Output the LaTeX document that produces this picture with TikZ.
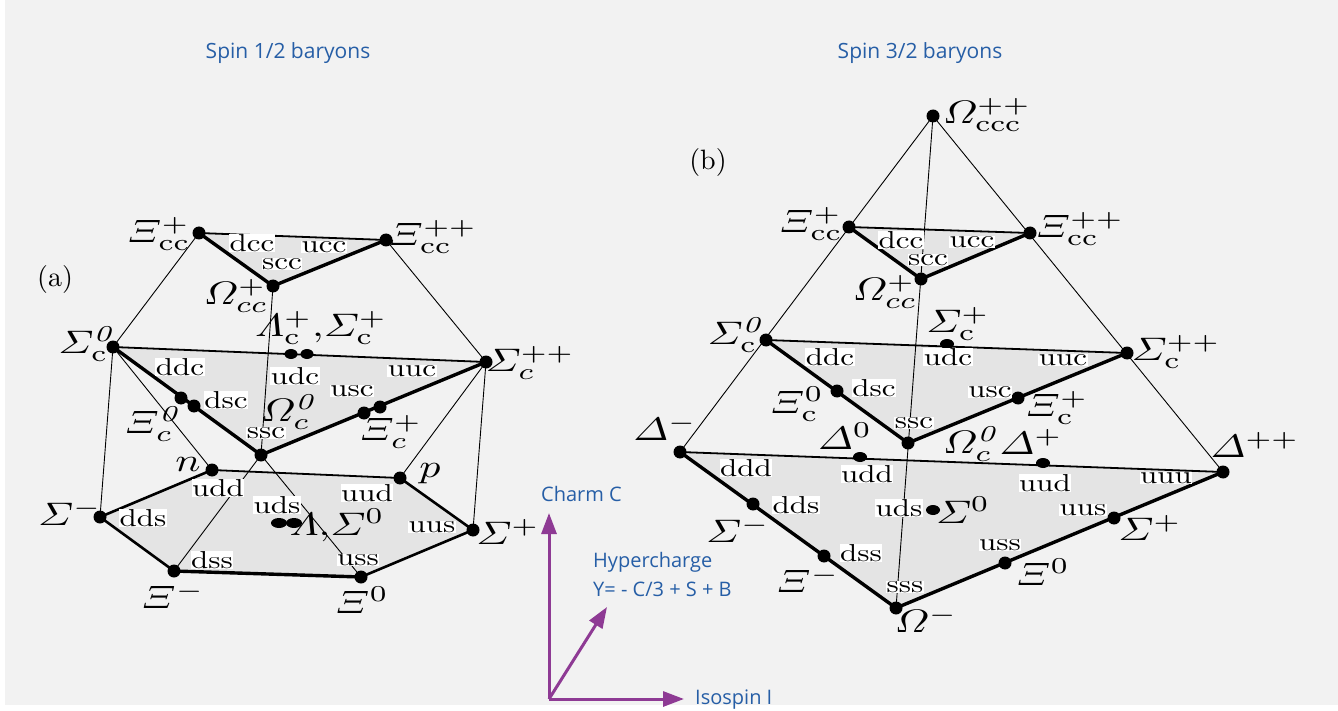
\documentclass[tikz,border=0pt]{standalone}
\usepackage{amsmath}
\usepackage{graphicx}
\usepackage{fontspec}
\newfontfamily\osans{Open Sans}
\usetikzlibrary{arrows.meta,shapes.geometric}
\definecolor{bgc}{RGB}{242,242,242}
\definecolor{shadec}{RGB}{228,228,228}
\definecolor{ttl}{RGB}{38,94,166}
\definecolor{axc}{RGB}{142,58,148}
\newcommand\gk[1]{\scalebox{4.2}[3.25]{\normalsize$#1$}}
\newcommand\qk[1]{\scalebox{3.1}[2.45]{\normalsize #1}}
\tikzset{
  dot/.style={circle,fill=black,inner sep=0pt,minimum size=13pt},
  edot/.style={ellipse,fill=black,inner sep=0pt,minimum width=14pt,minimum height=10pt},
  qlab/.style={fill=white,inner sep=0.6pt},
  glab/.style={inner sep=0pt},
  lnA/.style={line width=0.9pt},
  lnB/.style={line width=1.8pt},
  lnC/.style={line width=2.6pt},
  lnD/.style={line width=3.4pt},
  shadepoly/.style={fill=shadec},
  ttlfont/.style={font=\osans\fontsize{21}{23}\selectfont,text=ttl},
  axfont/.style={font=\osans\fontsize{20}{22}\selectfont,text=ttl,inner sep=0pt},
  axarrow/.style={draw=axc,line width=3pt,-{Triangle[length=21pt,width=15pt,fill=axc]}}
}
\begin{document}
\begin{tikzpicture}[x=1pt,y=-1pt]
\useasboundingbox (0,0) rectangle (1338,711);
\fill[white] (0,0) rectangle (1338,711);
\fill[bgc] (5,0) rectangle (1338,705);

% ---------- (a) coordinates ----------
\coordinate (aXccp) at (199,233);
\coordinate (aXccpp) at (386,240);
\coordinate (aOccp) at (273,286);
\coordinate (aSc0) at (113,347);
\coordinate (aScpp) at (486,362);
\coordinate (aLc1) at (291,354);
\coordinate (aLc2) at (307,354);
\coordinate (aDsc1) at (181,398);
\coordinate (aDsc2) at (194,406);
\coordinate (aSsc) at (261,455);
\coordinate (aUsc1) at (364,413);
\coordinate (aUsc2) at (380,407);
\coordinate (aN) at (212,470);
\coordinate (aP) at (400,478);
\coordinate (aSm) at (100,517);
\coordinate (aXm) at (174,571);
\coordinate (aX0) at (361,577);
\coordinate (aSp) at (473,530);
\coordinate (aL1) at (279,523);
\coordinate (aL2) at (294,523);

% ---------- (b) coordinates ----------
\coordinate (bOccc) at (933,116);
\coordinate (bXccp) at (849,227);
\coordinate (bXccpp) at (1030,233);
\coordinate (bOccp) at (921,279);
\coordinate (bSc0) at (766,340);
\coordinate (bScp) at (947,344);
\coordinate (bScpp) at (1127,353);
\coordinate (bXc0) at (837,391);
\coordinate (bSsc) at (908,443);
\coordinate (bXcp) at (1018,398);
\coordinate (bDm) at (680,452);
\coordinate (bD0) at (860,457);
\coordinate (bDp) at (1043,463);
\coordinate (bDpp) at (1223,472);
\coordinate (bSm) at (753,504);
\coordinate (bXm) at (824,556);
\coordinate (bOm) at (896,608);
\coordinate (bS0) at (933,510);
\coordinate (bX0) at (1005,563);
\coordinate (bSp) at (1114,518);

% ---------- shaded faces ----------
\fill[shadepoly] (aXccp) -- (aXccpp) -- (aOccp) -- cycle;
\fill[shadepoly] (aSc0) -- (aScpp) -- (aSsc) -- cycle;
\fill[shadepoly] (aN) -- (aP) -- (aSp) -- (aX0) -- (aXm) -- (aSm) -- cycle;
\fill[shadepoly] (bXccp) -- (bXccpp) -- (bOccp) -- cycle;
\fill[shadepoly] (bSc0) -- (bScpp) -- (bSsc) -- cycle;
\fill[shadepoly] (bDm) -- (bDpp) -- (bOm) -- cycle;

% ---------- (a) edges ----------
\draw[lnA] (aXccp) -- (aSc0);
\draw[lnA] (aXccpp) -- (aScpp);
\draw[lnA] (aOccp) -- (aSsc);
\draw[lnA] (aSc0) -- (aSm);
\draw[lnA] (aScpp) -- (aSp);
\draw[lnA] (aSc0) -- (aN);
\draw[lnA] (aScpp) -- (aP);
\draw[lnA] (aSsc) -- (aXm);
\draw[lnA] (aSsc) -- (aX0);
\draw[lnB] (aXccp) -- (aXccpp);
\draw[lnB] (aSc0) -- (aScpp);
\draw[lnB] (aN) -- (aP);
\draw[lnC] (aSm) -- (aN);
\draw[lnC] (aSm) -- (aXm);
\draw[lnC] (aP) -- (aSp);
\draw[lnC] (aSp) -- (aX0);
\draw[lnD,line join=round] (aXccp) -- (aOccp) -- (aXccpp);
\draw[lnD,line join=round] (aSc0) -- (aSsc) -- (aScpp);
\draw[lnD] (aXm) -- (aX0);

% ---------- (b) edges ----------
\draw[lnA] (bOccc) -- (bDm);
\draw[lnA] (bOccc) -- (bDpp);
\draw[lnA] (bOccc) -- (bOm);
\draw[lnB] (bXccp) -- (bXccpp);
\draw[lnB] (bSc0) -- (bScpp);
\draw[lnB] (bDm) -- (bDpp);
\draw[lnD,line join=round] (bXccp) -- (bOccp) -- (bXccpp);
\draw[lnD,line join=round] (bSc0) -- (bSsc) -- (bScpp);
\draw[lnD,line join=round] (bDm) -- (bOm) -- (bDpp);

% ---------- (a) dots ----------
\node[dot] (aXccpD) at (aXccp) {};
\node[dot] (aXccppD) at (aXccpp) {};
\node[dot] (aOccpD) at (aOccp) {};
\node[dot] (aSc0D) at (aSc0) {};
\node[dot] (aScppD) at (aScpp) {};
\node[edot,minimum width=13pt] (aLc1D) at (aLc1) {};
\node[edot,minimum width=13pt] (aLc2D) at (aLc2) {};
\node[dot] (aDsc1D) at (aDsc1) {};
\node[dot] (aDsc2D) at (aDsc2) {};
\node[dot] (aSscD) at (aSsc) {};
\node[dot] (aUsc1D) at (aUsc1) {};
\node[dot] (aUsc2D) at (aUsc2) {};
\node[dot] (aND) at (aN) {};
\node[dot] (aPD) at (aP) {};
\node[dot] (aSmD) at (aSm) {};
\node[dot] (aXmD) at (aXm) {};
\node[dot] (aX0D) at (aX0) {};
\node[dot] (aSpD) at (aSp) {};
\node[edot,minimum width=16pt] (aL1D) at (aL1) {};
\node[edot,minimum width=16pt] (aL2D) at (aL2) {};

% ---------- (b) dots ----------
\node[dot] (bOcccD) at (bOccc) {};
\node[dot] (bXccpD) at (bXccp) {};
\node[dot] (bXccppD) at (bXccpp) {};
\node[dot] (bOccpD) at (bOccp) {};
\node[dot] (bSc0D) at (bSc0) {};
\node[edot] (bScpD) at (bScp) {};
\node[dot] (bScppD) at (bScpp) {};
\node[dot] (bXc0D) at (bXc0) {};
\node[dot] (bSscD) at (bSsc) {};
\node[dot] (bXcpD) at (bXcp) {};
\node[dot] (bDmD) at (bDm) {};
\node[edot] (bD0D) at (bD0) {};
\node[edot] (bDpD) at (bDp) {};
\node[dot] (bDppD) at (bDpp) {};
\node[dot] (bSmD) at (bSm) {};
\node[dot] (bXmD) at (bXm) {};
\node[dot] (bOmD) at (bOm) {};
\node[edot] (bS0D) at (bS0) {};
\node[dot] (bX0D) at (bX0) {};
\node[dot] (bSpD) at (bSp) {};

% ---------- (a) quark labels ----------
\node[qlab] (aq1) at (252,243) {\qk{dcc}};
\node[qlab] (aq2) at (324,247) {\qk{ucc}};
\node[qlab] (aq3) at (282,264) {\qk{scc}};
\node[qlab] (aq4) at (180,367) {\qk{ddc}};
\node[qlab] (aq5) at (295,376) {\qk{udc}};
\node[qlab] (aq6) at (412,371) {\qk{uuc}};
\node[qlab] (aq7) at (226,400) {\qk{dsc}};
\node[qlab] (aq8) at (352,391) {\qk{usc}};
\node[qlab] (aq9) at (266,433) {\qk{ssc}};
\node[qlab] (aq10) at (218,488) {\qk{udd}};
\node[qlab] (aq11) at (277,505) {\qk{uds}};
\node[qlab] (aq12) at (367,493) {\qk{uud}};
\node[qlab] (aq13) at (143,518) {\qk{dds}};
\node[qlab] (aq14) at (432,527) {\qk{uus}};
\node[qlab] (aq15) at (212,560) {\qk{dss}};
\node[qlab] (aq16) at (358,560) {\qk{uss}};

% ---------- (a) particle labels ----------
\node (aTag) at (55,280) {\scalebox{2.8}{(a)}};
\node[glab] (aXccpL) at (159,234) {\gk{\varXi^{+}_{\mathrm{cc}}}};
\node[glab] (aXccppL) at (433,237) {\gk{\varXi^{++}_{\mathrm{cc}}}};
\node[glab] (aOccpL) at (236,296) {\gk{\varOmega^{+}_{cc}}};
\node[glab] (aSc0L) at (86,344) {\gk{\varSigma^{\mathit{0}}_{\mathrm{c}}}};
\node[glab] (aLcL) at (321,328) {\gk{\varLambda^{+}_{\mathrm{c}}{,}\varSigma^{+}_{\mathrm{c}}}};
\node[glab] (aScppL) at (530,363) {\gk{\varSigma^{++}_{c}}};
\node[glab] (aOc0L) at (288,412) {\gk{\varOmega^{\mathit{0}}_{c}}};
\node[glab] (aXc0L) at (152,424) {\gk{\varXi^{\mathit{0}}_{c}}};
\node[glab] (aXcpL) at (391,432) {\gk{\varXi^{+}_{c}}};
\node[glab] (aNL) at (188,465) {\gk{n}};
\node[glab] (aPL) at (430,474) {\gk{p}};
\node[glab] (aL0L) at (337,525) {\gk{\varLambda{,}\varSigma^{0}}};
\node[glab] (aSmL) at (70,513) {\gk{\varSigma^{-}}};
\node[glab] (aSpL) at (508,532) {\gk{\varSigma^{+}}};
\node[glab] (aXmL) at (173,596) {\gk{\varXi^{-}}};
\node[glab] (aX0L) at (362,600) {\gk{\varXi^{0}}};

% ---------- (b) quark labels ----------
\node[qlab] (bq1) at (901,240) {\qk{dcc}};
\node[qlab] (bq2) at (972,242) {\qk{ucc}};
\node[qlab] (bq3) at (928,260) {\qk{scc}};
\node[qlab] (bq4) at (830,357) {\qk{ddc}};
\node[qlab] (bq5) at (948,357) {\qk{udc}};
\node[qlab] (bq6) at (1063,360) {\qk{uuc}};
\node[qlab] (bq7) at (874,388) {\qk{dsc}};
\node[qlab] (bq8) at (990,392) {\qk{usc}};
\node[qlab] (bq9) at (914,423) {\qk{ssc}};
\node[qlab] (bq10) at (746,468) {\qk{ddd}};
\node[qlab] (bq11) at (867,474) {\qk{udd}};
\node[qlab] (bq12) at (1045,483) {\qk{uud}};
\node[qlab] (bq13) at (1166,478) {\qk{uuu}};
\node[qlab] (bq14) at (796,505) {\qk{dds}};
\node[qlab] (bq15) at (899,508) {\qk{uds}};
\node[qlab] (bq16) at (861,553) {\qk{dss}};
\node[qlab] (bq17) at (905,587) {\qk{sss}};
\node[qlab] (bq18) at (1000,545) {\qk{uss}};
\node[qlab] (bq19) at (1083,510) {\qk{uus}};

% ---------- (b) particle labels ----------
\node (bTag) at (708,163) {\scalebox{2.8}{(b)}};
\node[glab] (bOcccL) at (987,115) {\gk{\varOmega^{++}_{\mathrm{ccc}}}};
\node[glab] (bXccpL) at (811,224) {\gk{\varXi^{+}_{\mathrm{cc}}}};
\node[glab] (bXccppL) at (1080,229) {\gk{\varXi^{++}_{\mathrm{cc}}}};
\node[glab] (bOccpL) at (885,292) {\gk{\varOmega^{+}_{cc}}};
\node[glab] (bSc0L) at (735,335) {\gk{\varSigma^{\mathit{0}}_{\mathrm{c}}}};
\node[glab] (bScpL) at (958,324) {\gk{\varSigma^{+}_{\mathrm{c}}}};
\node[glab] (bScppL) at (1176,352) {\gk{\varSigma^{++}_{\mathrm{c}}}};
\node[glab] (bXc0L) at (797,404) {\gk{\varXi^{0}_{\mathrm{c}}}};
\node[glab] (bXcpL) at (1057,408) {\gk{\varXi^{+}_{\mathrm{c}}}};
\node[glab] (bOc0L) at (970,444) {\gk{\varOmega^{\mathit{0}}_{c}}};
\node[glab] (bDmL) at (665,428) {\gk{\varDelta^{-}}};
\node[glab] (bD0L) at (845,436) {\gk{\varDelta^{0}}};
\node[glab] (bDpL) at (1031,442) {\gk{\varDelta^{+}}};
\node[glab] (bDppL) at (1255,445) {\gk{\varDelta^{++}}};
\node[glab] (bSmL) at (738,530) {\gk{\varSigma^{-}}};
\node[glab] (bS0L) at (963,510) {\gk{\varSigma^{0}}};
\node[glab] (bXmL) at (808,580) {\gk{\varXi^{-}}};
\node[glab] (bOmL) at (926,620) {\gk{\varOmega^{-}}};
\node[glab] (bX0L) at (1043,572) {\gk{\varXi^{0}}};
\node[glab] (bSpL) at (1150,528) {\gk{\varSigma^{+}}};

% ---------- titles ----------
\node[ttlfont] (t1) at (288,53) {Spin 1/2 baryons};
\node[ttlfont] (t2) at (920,53) {Spin 3/2 baryons};

% ---------- axes ----------
\coordinate (O) at (549,699);
\coordinate (Cup) at (549,513);
\coordinate (Irt) at (684,699);
\coordinate (Ydg) at (607,607);
\draw[axarrow] (O) -- (Cup);
\draw[axarrow] (O) -- (Irt);
\draw[axarrow] (O) -- (Ydg);
\node[axfont,anchor=west] (axC) at (541,494) {Charm C};
\node[axfont,anchor=west] (axY1) at (593,562) {Hypercharge};
\node[axfont,anchor=west] (axY2) at (593,589) {Y= - C/3 + S + B};
\node[axfont,anchor=west] (axI) at (695,700) {Isospin I};
\end{tikzpicture}
\end{document}
